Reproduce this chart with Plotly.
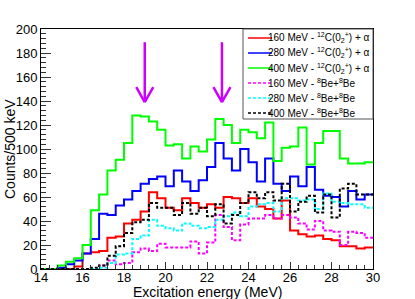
import numpy as np
import plotly.graph_objects as go

# ---------------- data ----------------
E_MIN = 14.0
E_MAX = 30.0
BIN_WIDTH = 0.4
bin_edges = [round(E_MIN + BIN_WIDTH * i, 1) for i in range(41)]

c_alpha_160 = [0, 0, 0, 0, 2, 13, 14, 15, 26, 27, 38, 41, 48, 64, 59, 51, 49, 59, 55, 51,
               54, 51, 60, 59, 55, 59, 52, 50, 42, 57, 32, 29, 27, 28, 25, 24, 19, 19, 17, 18]
c_alpha_280 = [0, 0, 1, 4, 7, 13, 25, 46, 45, 53, 58, 65, 71, 75, 77, 69, 82, 73, 65, 74,
               85, 105, 92, 82, 100, 89, 73, 92, 71, 65, 77, 69, 85, 66, 61, 60, 52, 65, 58, 62]
c_alpha_400 = [0, 0, 3, 6, 9, 20, 49, 62, 82, 91, 105, 128, 127, 123, 116, 103, 104, 92, 102, 98,
               108, 125, 120, 105, 116, 114, 109, 122, 90, 101, 102, 118, 87, 105, 115, 115, 92, 88, 88, 89]
be_160 = [0, 0, 0, 0, 0, 0, 0, 3, 7, 4, 5, 14, 17, 15, 21, 18, 18, 18, 23, 13,
          22, 45, 35, 24, 37, 42, 42, 45, 42, 45, 43, 38, 33, 40, 32, 31, 20, 31, 30, 26]
be_280 = [0, 0, 0, 0, 0, 0, 0, 1, 5, 12, 13, 25, 28, 41, 36, 34, 32, 38, 36, 34,
          35, 41, 44, 47, 44, 52, 54, 55, 48, 59, 59, 57, 58, 50, 63, 56, 55, 54, 54, 51]
be_400 = [0, 0, 0, 0, 0, 0, 1, 3, 11, 19, 30, 39, 41, 55, 51, 51, 45, 55, 46, 51,
          44, 54, 38, 45, 55, 64, 59, 64, 57, 71, 48, 56, 61, 47, 62, 43, 67, 71, 62, 62]

series_labels = [
    "160 MeV - <sup>12</sup>C(0<sub>2</sub><sup>+</sup>) + α",
    "280 MeV - <sup>12</sup>C(0<sub>2</sub><sup>+</sup>) + α",
    "400 MeV - <sup>12</sup>C(0<sub>2</sub><sup>+</sup>) + α",
    "160 MeV - <sup>8</sup>Be+<sup>8</sup>Be",
    "280 MeV - <sup>8</sup>Be+<sup>8</sup>Be",
    "400 MeV - <sup>8</sup>Be+<sup>8</sup>Be",
]
series_values = [c_alpha_160, c_alpha_280, c_alpha_400, be_160, be_280, be_400]

arrow_energies = [19.0, 22.72]
arrow_top = 189
arrow_tip = 139

x_ticks = [14, 16, 18, 20, 22, 24, 26, 28, 30]
y_ticks = [0, 20, 40, 60, 80, 100, 120, 140, 160, 180, 200]

# ---------------- style ----------------
colors = ["#ff0000", "#0000ff", "#00ff00", "#ff00ff", "#00ffff", "#000000"]
dashes = ["solid", "solid", "solid", "3px,2px", "3px,2px", "3px,2px"]
arrow_color = "#cc00ff"
FONT = "Liberation Sans, Arial, sans-serif"

W, H = 415, 299
ML, MR, MT, MB = 41, 42, 29, 30
PW, PH = W - ML - MR, H - MT - MB

fig = go.Figure()
for vals, col, dsh in zip(series_values, colors, dashes):
    fig.add_trace(go.Scatter(
        x=bin_edges, y=list(vals) + [vals[-1]],
        mode="lines", line=dict(color=col, width=2, dash=dsh, shape="hv"),
        showlegend=False, hoverinfo="skip"))

shapes = []
head_dx = 0.41
head_dy = 12.5
for e in arrow_energies:
    for (xa, ya) in [(e, arrow_top), (e - head_dx, arrow_tip + head_dy), (e + head_dx, arrow_tip + head_dy)]:
        shapes.append(dict(type="line", xref="x", yref="y", x0=xa, x1=e, y0=ya, y1=arrow_tip,
                           line=dict(color=arrow_color, width=2.5)))

def px_x(p):
    return (p - ML) / PW

def px_y(p):
    return (H - MB - p) / PH

shapes.append(dict(type="rect", xref="paper", yref="paper",
                   x0=px_x(243), x1=px_x(373), y0=px_y(119), y1=px_y(29),
                   fillcolor="white", line=dict(color="#555555", width=1), layer="above"))
annotations = []
for i, (lab, col, dsh) in enumerate(zip(series_labels, colors, dashes)):
    yc = 38 + 15 * i
    shapes.append(dict(type="line", xref="paper", yref="paper",
                       x0=px_x(248), x1=px_x(272), y0=px_y(yc), y1=px_y(yc),
                       line=dict(color=col, width=1.5, dash=dsh), layer="above"))
    annotations.append(dict(xref="paper", yref="paper", x=px_x(267), y=px_y(yc),
                            xanchor="left", yanchor="middle", align="left", text=lab, showarrow=False,
                            borderpad=0, font=dict(family=FONT, size=10, color="black")))

annotations.append(dict(xref="paper", yref="paper", x=px_x(10), y=0.5, text="Counts/500 keV",
                        textangle=-90, showarrow=False, xanchor="center", yanchor="middle",
                        font=dict(family=FONT, size=14, color="black")))
annotations.append(dict(xref="paper", yref="paper", x=0.5, y=px_y(292), text="Excitation energy (MeV)",
                        showarrow=False, xanchor="center", yanchor="middle",
                        font=dict(family=FONT, size=14, color="black")))

fig.update_layout(
    width=W, height=H,
    margin=dict(l=ML, r=MR, t=MT, b=MB, pad=0),
    paper_bgcolor="white", plot_bgcolor="white",
    shapes=shapes, annotations=annotations,
    font=dict(family=FONT, size=13, color="black"),
    xaxis=dict(range=[E_MIN, E_MAX], tickvals=x_ticks, ticktext=[str(v) for v in x_ticks],
               ticks="inside", ticklen=7, tickwidth=1, tickcolor="#333333",
               minor=dict(dtick=BIN_WIDTH, tick0=E_MIN, ticks="inside", ticklen=4, tickcolor="#333333"),
               showline=True, linecolor="black", linewidth=1, mirror=True, ticklabelstandoff=-4,
               showgrid=False, zeroline=False, tickfont=dict(size=13)),
    yaxis=dict(range=[0, 200], tickvals=y_ticks, ticktext=[str(v) for v in y_ticks],
               ticks="inside", ticklen=10, tickwidth=1, tickcolor="#333333",
               minor=dict(dtick=4, tick0=0, ticks="inside", ticklen=5, tickcolor="#333333"),
               showline=True, linecolor="black", linewidth=1, mirror=True,
               showgrid=False, zeroline=False, tickfont=dict(size=13)),
)

fig.write_html("out.html", config={"displayModeBar": False, "staticPlot": True},
               post_script="document.body.style.margin='0';")
